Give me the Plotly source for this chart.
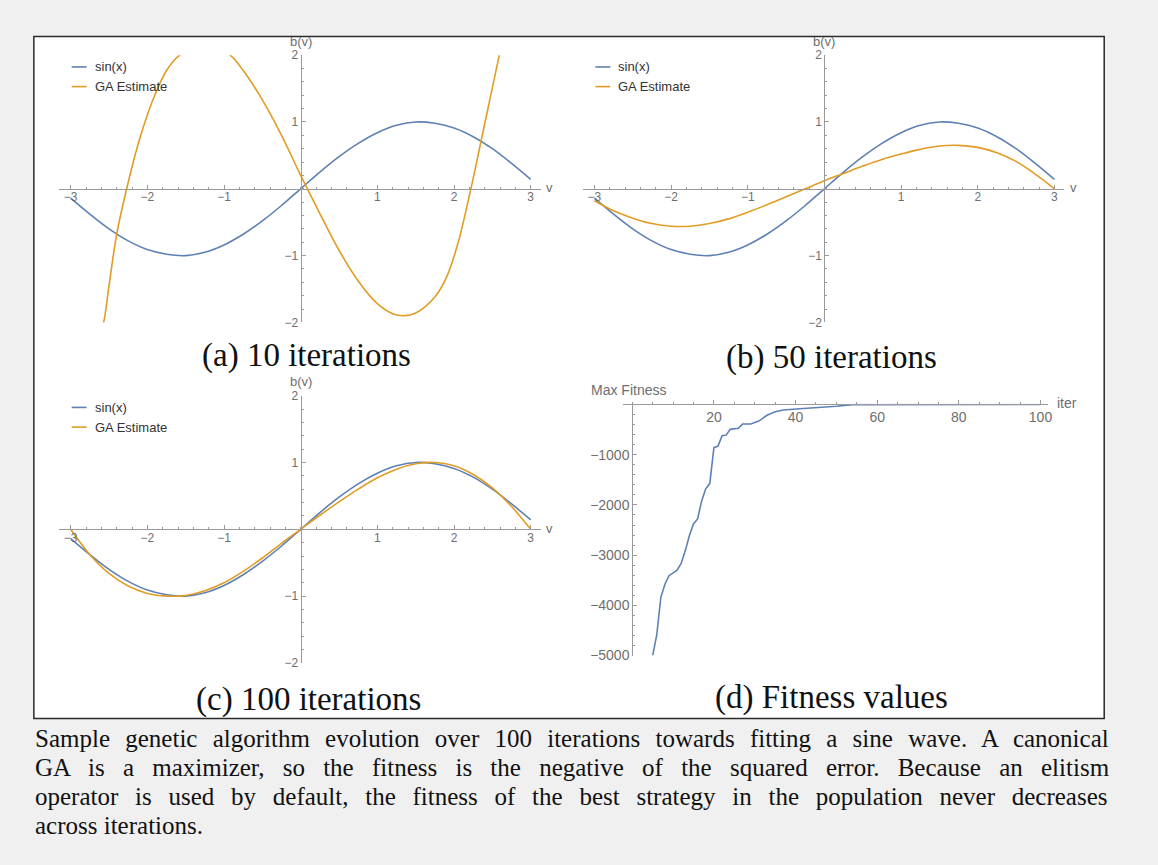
import plotly.graph_objects as go

W, H = 1158, 865

# ---------------------------------------------------------------- data
# sample abscissae shared by the curve panels
v_pts = [-3.0, -2.75, -2.5, -2.25, -2.0, -1.75, -1.5, -1.25, -1.0, -0.75, -0.5, -0.25,
         0.0, 0.25, 0.5, 0.75, 1.0, 1.25, 1.5, 1.75, 2.0, 2.25, 2.5, 2.75, 3.0]
sin_vals = [-0.14, -0.38, -0.60, -0.78, -0.91, -0.98, -1.00, -0.95, -0.84, -0.68, -0.48, -0.25,
            0.00, 0.25, 0.48, 0.68, 0.84, 0.95, 1.00, 0.98, 0.91, 0.78, 0.60, 0.38, 0.14]

# GA estimate after 10 iterations (runs out of the +-2 window at both ends)
ga10_v = [-2.65, -2.57, -2.5, -2.4, -2.27, -2.1, -1.9, -1.75, -1.58, -1.25, -0.92, -0.75,
          -0.5, -0.25, 0.0, 0.25, 0.5, 0.75, 1.0, 1.2, 1.34, 1.5, 1.75, 1.9, 2.05, 2.22,
          2.35, 2.47, 2.59, 2.65]
ga10 = [-2.3, -2.0, -1.45, -0.68, 0.0, 0.75, 1.41, 1.77, 2.0, 2.2, 2.0, 1.77,
        1.33, 0.80, 0.20, -0.37, -0.92, -1.38, -1.72, -1.87, -1.90, -1.86, -1.62, -1.33, -0.82, 0.0,
        0.70, 1.35, 2.0, 2.35]

# GA estimate after 50 and 100 iterations, on v_pts
ga50 = [-0.18, -0.33, -0.44, -0.52, -0.56, -0.56, -0.52, -0.45, -0.35, -0.24, -0.12, 0.00,
        0.12, 0.23, 0.34, 0.44, 0.52, 0.59, 0.64, 0.65, 0.62, 0.54, 0.41, 0.22, 0.00]
ga100 = [0.00, -0.38, -0.66, -0.85, -0.96, -1.00, -0.99, -0.92, -0.80, -0.63, -0.43, -0.21,
         0.00, 0.21, 0.41, 0.60, 0.77, 0.90, 0.98, 1.00, 0.95, 0.82, 0.62, 0.34, 0.00]

# best fitness of the population per iteration
iters = [5, 6, 7, 8, 9, 11, 12, 13, 14, 15, 16, 17, 18, 19, 20, 21, 22, 23, 24, 26, 27, 29,
         31, 33, 35, 37, 41, 46, 50, 54, 60, 80, 100]
max_fitness = [-5000, -4590, -3840, -3580, -3410, -3300, -3160, -2910, -2610, -2380, -2280,
               -1920, -1680, -1570, -860, -830, -620, -610, -495, -475, -390, -390,
               -330, -215, -145, -110, -85, -60, -35, -3, -2, -1, -1]

v_ticks = [-3, -2, -1, 1, 2, 3]
b_ticks = [-2, -1, 1, 2]
iter_ticks = [20, 40, 60, 80, 100]
fit_ticks = [-5000, -4000, -3000, -2000, -1000]

sub_captions = ["(a) 10 iterations", "(b) 50 iterations", "(c) 100 iterations", "(d) Fitness values"]
caption_lines = [
    "Sample genetic algorithm evolution over 100 iterations towards fitting a sine wave. A canonical",
    "GA is a maximizer, so the fitness is the negative of the squared error. Because an elitism",
    "operator is used by default, the fitness of the best strategy in the population never decreases",
    "across iterations.",
]
# extra inter-word space that spreads the first three caption lines to the full text width
caption_word_gap = [9, 12, 10.5, 0]

# ---------------------------------------------------------------- style
BLUE = "#5E81B5"
ORANGE = "#E19C24"
AXIS = "#9a9a9a"
TICK = "#6e6e6e"
SANS = "Liberation Sans, Arial, sans-serif"
SERIF = "Liberation Serif, Times New Roman, serif"
PAGE = "#f0f0f0"


def fx(p):
    return p / W


def fy(p):
    return 1 - p / H


fig = go.Figure()
layout = dict(
    width=W, height=H, margin=dict(l=0, r=0, t=0, b=0),
    paper_bgcolor=PAGE, plot_bgcolor="rgba(0,0,0,0)", showlegend=False,
)

V_UNIT, B_UNIT = 77.0, 68.0
V_RANGE = [-3.15, 3.13]


def axis_common(tick_size):
    return dict(showline=True, linecolor=AXIS, linewidth=1, showgrid=False, zeroline=False,
                ticks="inside", ticklen=4, tickcolor=AXIS, tickwidth=1,
                tickfont=dict(family=SANS, size=tick_size, color=TICK), fixedrange=True)


def curve_panel(idx, x0, y0, ga_x, ga_y, legend_x, legend_y):
    sx = "" if idx == 1 else str(idx)
    xa = axis_common(12)
    xa.update(domain=[fx(x0 + V_RANGE[0] * V_UNIT), fx(x0 + V_RANGE[1] * V_UNIT)],
              range=V_RANGE, anchor="free", position=fy(y0), side="bottom",
              tickmode="array", tickvals=v_ticks, ticklabelstandoff=-3,
              minor=dict(ticks="inside", ticklen=2, tickcolor=AXIS, tickmode="linear",
                         tick0=0, dtick=0.2, showgrid=False))
    ya = axis_common(12)
    ya.update(domain=[fy(y0 + 2 * B_UNIT), fy(y0 - 2 * B_UNIT)],
              range=[-2, 2], anchor="free", position=fx(x0), side="left",
              tickmode="array", tickvals=b_ticks,
              minor=dict(ticks="inside", ticklen=2, tickcolor=AXIS, tickmode="linear",
                         tick0=0, dtick=0.2, showgrid=False))
    layout["xaxis" + sx] = xa
    layout["yaxis" + sx] = ya
    fig.add_trace(go.Scatter(x=v_pts, y=sin_vals, mode="lines", name="sin(x)",
                             line=dict(color=BLUE, width=1.6, shape="spline"),
                             xaxis="x" + sx, yaxis="y" + sx, hoverinfo="skip"))
    fig.add_trace(go.Scatter(x=ga_x, y=ga_y, mode="lines", name="GA Estimate",
                             line=dict(color=ORANGE, width=1.6, shape="spline"),
                             xaxis="x" + sx, yaxis="y" + sx, hoverinfo="skip"))
    anns = [
        dict(text="b(v)", xref="x" + sx, x=0, yref="paper", y=fy(y0 - 150), xanchor="center",
             yanchor="middle", showarrow=False, font=dict(family=SANS, size=13, color=TICK)),
        dict(text="v", xref="paper", x=fx(x0 + 250), yref="paper", y=fy(y0 - 1), xanchor="center",
             yanchor="middle", showarrow=False, font=dict(family=SANS, size=13, color=TICK)),
    ]
    shapes = []
    for k, (label, col) in enumerate([("sin(x)", BLUE), ("GA Estimate", ORANGE)]):
        ly = legend_y + 20 * k
        shapes.append(dict(type="line", xref="paper", yref="paper", x0=fx(legend_x), x1=fx(legend_x + 15),
                           y0=fy(ly), y1=fy(ly), line=dict(color=col, width=1.6)))
        anns.append(dict(text=label, xref="paper", yref="paper", x=fx(legend_x + 21), y=fy(ly),
                         xanchor="left", yanchor="middle", showarrow=False,
                         font=dict(family=SANS, size=13, color="#333333")))
    return anns, shapes


annotations, shapes = [], []

# outer white frame
shapes.append(dict(type="rect", xref="paper", yref="paper", x0=fx(34), x1=fx(1109), y0=fy(724), y1=fy(30),
                   fillcolor="white", line=dict(color="#2a2a2a", width=1.5), layer="below"))

for idx, (x0, y0, gx, gy) in enumerate([(302, 185, ga10_v, ga10), (828, 185, v_pts, ga50),
                                         (302, 531.5, v_pts, ga100)], start=1):
    a, s = curve_panel(idx, x0, y0, gx, gy, x0 - 230, y0 - 124)
    annotations += a
    shapes += s

# fitness panel
F_X0, F_XU = 635.0, 4.1
F_Y0, F_YU = 404.5, 0.0511
xa = axis_common(14)
xa.update(domain=[fx(F_X0 - 2.3 * F_XU), fx(F_X0 + 101.8 * F_XU)], range=[-2.3, 101.8],
          anchor="free", position=fy(F_Y0), side="bottom", tickmode="array", tickvals=iter_ticks,
          minor=dict(ticks="inside", ticklen=2, tickcolor=AXIS, tickmode="linear", tick0=0, dtick=5,
                     showgrid=False))
ya = axis_common(14)
ya.update(domain=[fy(F_Y0 + 5000 * F_YU), fy(F_Y0 - 15 * F_YU)], range=[-5000, 15],
          anchor="free", position=fx(F_X0), side="left", tickmode="array", tickvals=fit_ticks,
          minor=dict(ticks="inside", ticklen=2, tickcolor=AXIS, tickmode="linear", tick0=0, dtick=200,
                     showgrid=False))
layout["xaxis4"] = xa
layout["yaxis4"] = ya
fig.add_trace(go.Scatter(x=iters, y=max_fitness, mode="lines", name="Max Fitness",
                         line=dict(color=BLUE, width=1.6), xaxis="x4", yaxis="y4", hoverinfo="skip"))
annotations.append(dict(text="Max Fitness", xref="paper", yref="paper", x=fx(592), y=fy(390),
                        xanchor="left", yanchor="middle", showarrow=False,
                        font=dict(family=SANS, size=14, color=TICK)))
annotations.append(dict(text="iter", xref="paper", yref="paper", x=fx(1060), y=fy(403),
                        xanchor="left", yanchor="middle", showarrow=False,
                        font=dict(family=SANS, size=14, color=TICK)))

# sub-figure captions
for text, (cx, cy) in zip(sub_captions, [(308, 355), (835, 357), (310, 705), (835, 703)]):
    annotations.append(dict(text=text, xref="paper", yref="paper", x=fx(cx), y=fy(cy),
                            xanchor="center", yanchor="middle", showarrow=False,
                            font=dict(family=SERIF, size=33, color="#111111")))

# figure caption below the frame
for k, (line, gap) in enumerate(zip(caption_lines, caption_word_gap)):
    annotations.append(dict(text='<span style="word-spacing:%.1fpx">%s</span>' % (gap, line),
                            xref="paper", yref="paper", x=fx(33), y=fy(744 + 29.5 * k),
                            xanchor="left", yanchor="middle", showarrow=False,
                            font=dict(family=SERIF, size=25, color="#111111")))

layout["annotations"] = annotations
layout["shapes"] = shapes
fig.update_layout(**layout)
fig.write_html("out.html")
